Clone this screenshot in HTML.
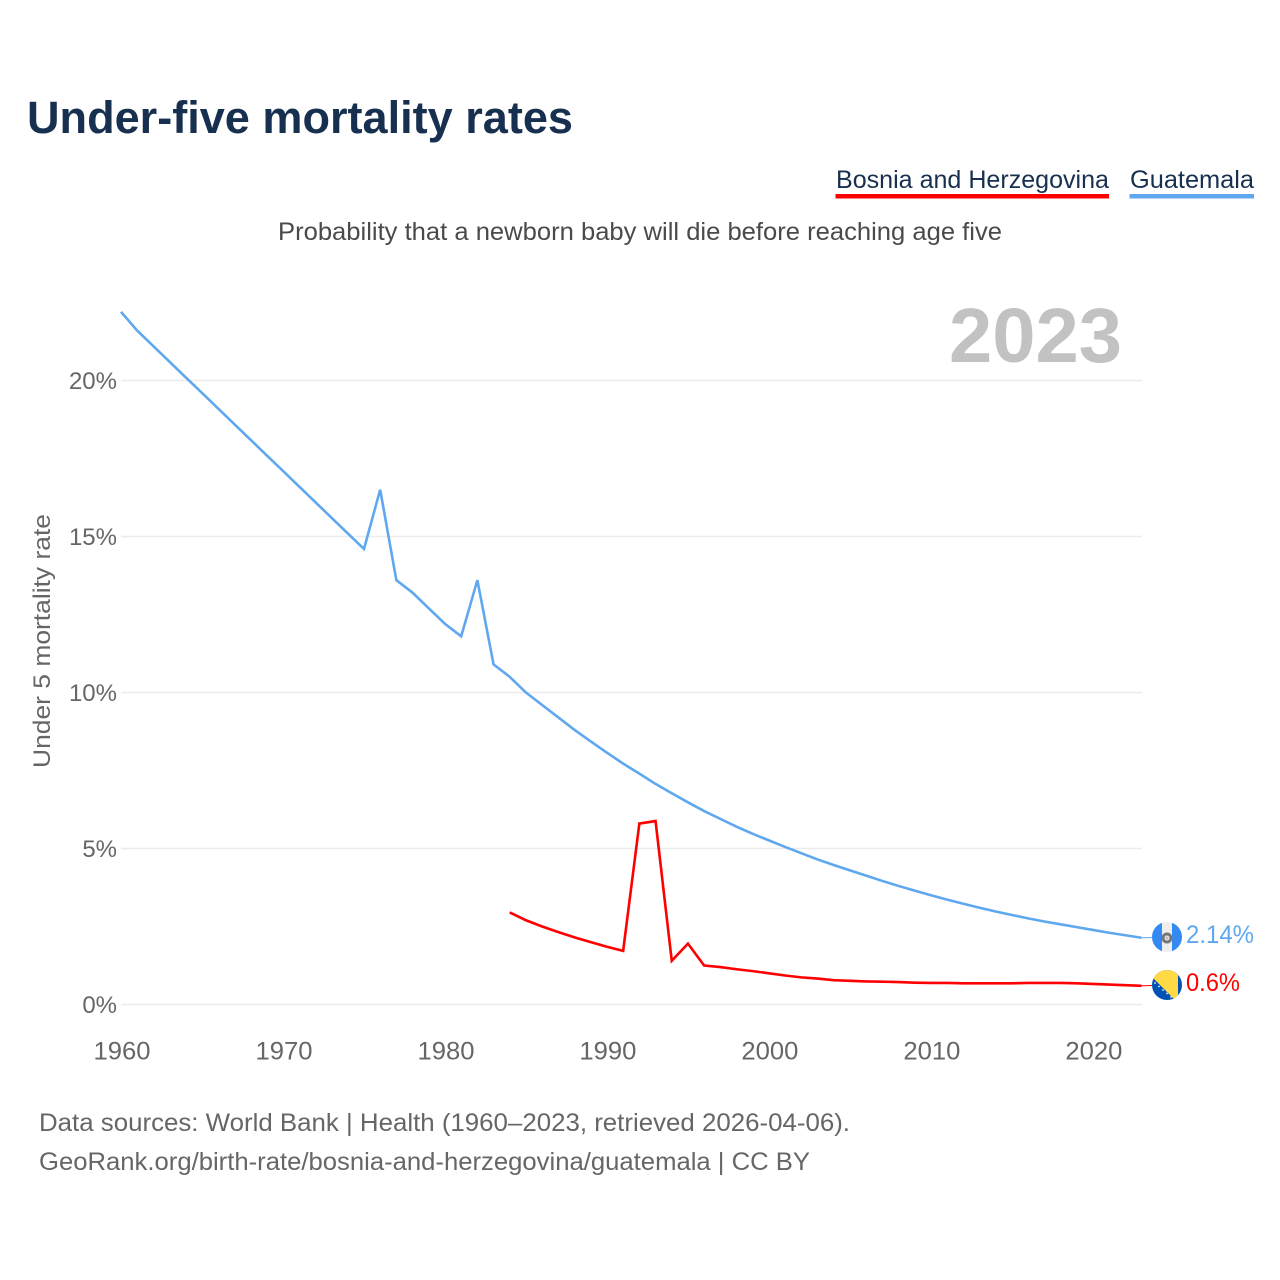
<!DOCTYPE html>
<html lang="en">
<head>
<meta charset="utf-8">
<title>Under-five mortality rates</title>
<style>
html,body{margin:0;padding:0;background:#fff;width:1280px;height:1280px;overflow:hidden}
svg{display:block}
text{font-family:"Liberation Sans",sans-serif}
</style>
</head>
<body>
<svg id="chart" xmlns="http://www.w3.org/2000/svg" width="1280" height="1280" viewBox="0 0 1280 1280">
  <rect width="1280" height="1280" fill="#fff"/>
  <text x="27" y="133" font-size="45" font-weight="700" fill="#18304f" textLength="546" lengthAdjust="spacingAndGlyphs">Under-five mortality rates</text>
  <g>
    <text x="836" y="188" font-size="25" fill="#18304f" textLength="273" lengthAdjust="spacingAndGlyphs">Bosnia and Herzegovina</text>
    <rect x="835.5" y="194" width="273.5" height="4.5" fill="#ff0000"/>
  </g>
  <g>
    <text x="1130" y="188" font-size="25" fill="#18304f" textLength="124" lengthAdjust="spacingAndGlyphs">Guatemala</text>
    <rect x="1129.5" y="194" width="124.5" height="4.5" fill="#5fa8ef"/>
  </g>
  <text x="278" y="240" font-size="25" fill="#4a4a4a" textLength="724" lengthAdjust="spacingAndGlyphs">Probability that a newborn baby will die before reaching age five</text>
  <text x="949" y="362" font-size="77" font-weight="700" fill="#c2c2c2" textLength="173" lengthAdjust="spacingAndGlyphs">2023</text>
  <text transform="translate(50 768) rotate(-90)" x="0" y="0" font-size="24" fill="#666" textLength="254" lengthAdjust="spacingAndGlyphs">Under 5 mortality rate</text>
  <g id="grid"></g>
  <g id="ylabels"></g>
  <g id="xlabels"></g>
  <g id="series"></g>

  <g id="flag-guatemala">
    <clipPath id="clipG"><circle cx="1167" cy="937" r="15"/></clipPath>
    <g clip-path="url(#clipG)">
      <rect x="1152" y="922" width="30" height="30" fill="#eeeeee"/>
      <rect x="1152" y="922" width="10" height="30" fill="#338af3"/>
      <rect x="1172" y="922" width="10" height="30" fill="#338af3"/>
      <circle cx="1167" cy="938" r="4" fill="none" stroke="#777" stroke-width="3"/>
      <circle cx="1167" cy="938" r="1.4" fill="#bbb"/>
    </g>
  </g>
  <g id="flag-bosnia">
    <clipPath id="clipB"><circle cx="1167" cy="985" r="15"/></clipPath>
    <g clip-path="url(#clipB)">
      <rect x="1152" y="970" width="30" height="30" fill="#0052b4"/>
      <polygon points="1153,978 1159,968 1178,968 1178,1000 1175,1000" fill="#ffda44"/>
      <g fill="#eee">
        <circle cx="1155" cy="983" r="0.9"/><circle cx="1159" cy="986.5" r="0.9"/><circle cx="1163" cy="990" r="0.9"/>
        <circle cx="1167" cy="993.5" r="0.9"/><circle cx="1171" cy="997" r="0.9"/>
      </g>
    </g>
  </g>
  <text x="1186" y="943" font-size="25" fill="#5fa8ef" textLength="68" lengthAdjust="spacingAndGlyphs">2.14%</text>
  <text x="1186" y="991" font-size="25" fill="#ff0000" textLength="54" lengthAdjust="spacingAndGlyphs">0.6%</text>

  <text x="39" y="1131" font-size="25" fill="#666" textLength="811" lengthAdjust="spacingAndGlyphs">Data sources: World Bank | Health (1960–2023, retrieved 2026-04-06).</text>
  <a><text x="39" y="1170" font-size="25" fill="#666" textLength="771" lengthAdjust="spacingAndGlyphs">GeoRank.org/birth-rate/bosnia-and-herzegovina/guatemala | CC BY</text></a>
</svg>
<script>
const startYear = 1960;
const endYear = 2023;
const guatemalaStartYear = 1960;
const guatemalaValues = [22.2,21.6,21.1,20.6,20.1,19.6,19.1,18.6,18.1,17.6,17.1,16.6,16.1,15.6,15.1,14.6,16.5,13.6,13.2,12.7,12.2,11.8,13.6,10.9,10.5,10.0,9.6,9.2,8.8,8.43,8.07,7.72,7.4,7.07,6.77,6.48,6.2,5.95,5.7,5.47,5.26,5.05,4.85,4.65,4.47,4.3,4.13,3.96,3.8,3.65,3.5,3.36,3.23,3.1,2.98,2.87,2.76,2.66,2.57,2.48,2.39,2.3,2.22,2.14];
const bosniaStartYear = 1984;
const bosniaValues = [2.95,2.7,2.5,2.32,2.15,2.0,1.85,1.72,5.8,5.88,1.4,1.95,1.25,1.2,1.13,1.07,1.0,0.93,0.87,0.83,0.78,0.76,0.74,0.73,0.72,0.7,0.69,0.69,0.68,0.68,0.68,0.68,0.69,0.69,0.69,0.68,0.66,0.64,0.62,0.6];
const yTicks = [0,5,10,15,20];
const yTickLabels = ['0%','5%','10%','15%','20%'];
const xTicks = [1960,1970,1980,1990,2000,2010,2020];
const xTickLabels = ['1960','1970','1980','1990','2000','2010','2020'];

const NS = 'http://www.w3.org/2000/svg';
const xScale = function (year) { return 121 + (year - startYear) * (1141.5 - 121) / (endYear - startYear); };
const yScale = function (v) { return 1004.5 - v * 31.2; };

const grid = document.getElementById('grid');
const ylabels = document.getElementById('ylabels');
const xlabels = document.getElementById('xlabels');
const seriesGroup = document.getElementById('series');

yTicks.forEach(function (t, i) {
  const line = document.createElementNS(NS, 'line');
  
  
  line.setAttribute('x1', 121);
  line.setAttribute('x2', 1142);
  line.setAttribute('y1', yScale(t));
  line.setAttribute('y2', yScale(t));
  line.setAttribute('stroke', '#ececec');
  line.setAttribute('stroke-width', 1.5);
  grid.appendChild(line);
  const label = document.createElementNS(NS, 'text');
  
  
  label.setAttribute('x', 117);
  label.setAttribute('y', yScale(t) + 8.5);
  label.setAttribute('text-anchor', 'end');
  label.setAttribute('font-size', 24);
  label.setAttribute('fill', '#666');
  label.textContent = yTickLabels[i];
  ylabels.appendChild(label);
});

xTicks.forEach(function (t, i) {
  const label = document.createElementNS(NS, 'text');
  
  
  label.setAttribute('x', xScale(t) + 1);
  label.setAttribute('y', 1059.5);
  label.setAttribute('text-anchor', 'middle');
  label.setAttribute('font-size', 25);
  label.setAttribute('fill', '#666');
  label.setAttribute('textLength', 57);
  label.setAttribute('lengthAdjust', 'spacingAndGlyphs');
  label.textContent = xTickLabels[i];
  xlabels.appendChild(label);
});

function pointsFor(values, firstYear) {
  return values.map(function (v, i) {
    return xScale(firstYear + i).toFixed(2) + ',' + yScale(v).toFixed(2);
  }).join(' ');
}

const guatemalaLine = document.createElementNS(NS, 'polyline');


guatemalaLine.setAttribute('points', pointsFor(guatemalaValues, guatemalaStartYear));
guatemalaLine.setAttribute('fill', 'none');
guatemalaLine.setAttribute('stroke', '#5fa8ef');
guatemalaLine.setAttribute('stroke-width', 2.6);
seriesGroup.appendChild(guatemalaLine);

const bosniaLine = document.createElementNS(NS, 'polyline');


bosniaLine.setAttribute('points', pointsFor(bosniaValues, bosniaStartYear));
bosniaLine.setAttribute('fill', 'none');
bosniaLine.setAttribute('stroke', '#ff0000');
bosniaLine.setAttribute('stroke-width', 2.6);
seriesGroup.appendChild(bosniaLine);

const guatemalaLeader = document.createElementNS(NS, 'line');


guatemalaLeader.setAttribute('x1', xScale(endYear));
guatemalaLeader.setAttribute('x2', 1152);
guatemalaLeader.setAttribute('y1', yScale(guatemalaValues[guatemalaValues.length - 1]));
guatemalaLeader.setAttribute('y2', 937.5);
guatemalaLeader.setAttribute('stroke', '#5fa8ef');
guatemalaLeader.setAttribute('stroke-width', 1);
seriesGroup.appendChild(guatemalaLeader);

const bosniaLeader = document.createElementNS(NS, 'line');


bosniaLeader.setAttribute('x1', xScale(endYear));
bosniaLeader.setAttribute('x2', 1152);
bosniaLeader.setAttribute('y1', yScale(bosniaValues[bosniaValues.length - 1]));
bosniaLeader.setAttribute('y2', 985.5);
bosniaLeader.setAttribute('stroke', '#ff0000');
bosniaLeader.setAttribute('stroke-width', 1);
seriesGroup.appendChild(bosniaLeader);
</script>
</body>
</html>
